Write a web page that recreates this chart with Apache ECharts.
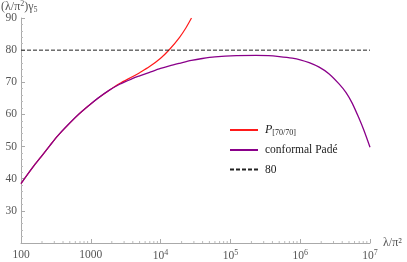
<!DOCTYPE html>
<html><head><meta charset="utf-8">
<script src="https://cdn.jsdelivr.net/npm/echarts@6/dist/echarts.min.js"></script>
<style>html,body{margin:0;padding:0;background:#fff}#c{width:407px;height:262px}</style>
</head><body><div id="c"></div>
<script>
// conformal Padé curve
const padeX = [100, 148, 195, 259, 338, 450, 653, 967, 1256, 1800, 2590, 4000, 5010, 6950, 10000, 13400, 18700, 27700, 39600, 60000, 122000, 233000, 350000, 501000, 770000, 1000000, 1345000, 1870000, 2600000, 3600000, 4540000, 5530000, 6960000, 8200000, 10000000];
const padeY = [38.5, 43.6, 46.9, 50.3, 53.4, 56.3, 59.8, 63.0, 65.0, 67.4, 69.4, 71.2, 72.0, 73.1, 74.3, 75.1, 75.9, 76.8, 77.4, 77.9, 78.3, 78.4, 78.3, 78.0, 77.5, 77.0, 76.1, 74.7, 72.6, 69.5, 66.8, 63.6, 58.8, 55.0, 49.8];
// P_[70/70] curve
const p70X = [100, 148, 195, 259, 338, 450, 653, 967, 1256, 1800, 2590, 4000, 5010, 6950, 10000, 13400, 18700, 23000, 27700];
const p70Y = [38.5, 43.6, 46.9, 50.3, 53.4, 56.3, 59.8, 63.0, 65.0, 67.4, 69.6, 71.8, 73.0, 74.9, 77.5, 80.2, 84.0, 86.9, 90.0];
// reference level
const refX = [100, 10000000];
const refY = [80, 80];
// x minor ticks
const xMinor = [200,300,400,500,600,700,800,900,2000,3000,4000,5000,6000,7000,8000,9000,20000,30000,40000,50000,60000,70000,80000,90000,200000,300000,400000,500000,600000,700000,800000,900000,2000000,3000000,4000000,5000000,6000000,7000000,8000000,9000000];
const names = ['P70', 'conformal Padé', '80'];

const serif = 'Liberation Serif';
const pair = (xs, ys) => xs.map((x, i) => [x, ys[i]]);

const chart = echarts.init(document.getElementById('c'), null, {renderer: 'canvas'});
chart.setOption({
  animation: false,
  grid: {left: 21, right: 37, top: 18, bottom: 19, containLabel: false},
  xAxis: {
    type: 'log', logBase: 10, min: 100, max: 10000000,
    name: 'λ/π²', nameLocation: 'end', nameGap: 13,
    nameTextStyle: {fontFamily: serif, fontSize: 12, color: '#555', verticalAlign: 'middle', padding: [0,0,4,0]},
    axisLine: {lineStyle: {color: '#aaa', width: 1}},
    axisTick: {show: true, inside: true, length: 4, lineStyle: {color: '#aaa'}},
    splitLine: {show: false},
    axisLabel: {
      margin: 6, color: '#555', fontFamily: serif, fontSize: 11.5,
      formatter: v => {
        const e = Math.round(Math.log10(v));
        if (e <= 3) return String(Math.round(v));
        return '{b|10}{p|' + e + '}';
      },
      rich: {
        b: {fontFamily: serif, fontSize: 11.5, color: '#555'},
        p: {fontFamily: serif, fontSize: 8, color: '#555', verticalAlign: 'top', padding: [0,0,6,0]}
      }
    }
  },
  yAxis: {
    type: 'value', min: 20, max: 90, interval: 10,
    axisLine: {show: true, lineStyle: {color: '#aaa', width: 1}},
    axisTick: {show: true, inside: true, length: 4, lineStyle: {color: '#aaa'}},
    minorTick: {show: true, splitNumber: 5, length: 2, lineStyle: {color: '#bbb'}},
    splitLine: {show: false},
    axisLabel: {
      margin: 4, color: '#555', fontFamily: serif, fontSize: 11.5,
      formatter: v => v === 20 ? '' : String(v)
    }
  },
  legend: {
    orient: 'vertical', left: 229, top: 124, padding: 0, itemWidth: 28, itemHeight: 14, itemGap: 7.5,
    data: names,
    itemStyle: {opacity: 0},
    textStyle: {
      fontFamily: serif, fontSize: 11.5, color: '#222', padding: [0,0,0,2],
      rich: {
        i: {fontFamily: serif, fontStyle: 'italic', fontSize: 12, color: '#222'},
        s: {fontFamily: serif, fontSize: 8, color: '#222', verticalAlign: 'bottom', padding: [5,0,0,0]}
      }
    },
    formatter: n => n === 'P70' ? '{i|P}{s|[70/70]}' : n
  },
  graphic: [{
    type: 'text', left: 1, top: 0,
    style: {
      text: '{a|(λ/π}{u|2}{a|)γ}{d|5}',
      rich: {
        a: {fontFamily: serif, fontSize: 12, fill: '#555'},
        u: {fontFamily: serif, fontSize: 8, fill: '#555', verticalAlign: 'top', padding: [0,0,6,0]},
        d: {fontFamily: serif, fontSize: 8, fill: '#555', verticalAlign: 'bottom', padding: [5,0,0,0]}
      }
    }
  }],
  series: [
    {
      name: 'P70', type: 'line', data: pair(p70X, p70Y), smooth: 0.3, symbol: 'none',
      lineStyle: {color: '#ff1a1a', width: 1.2}, itemStyle: {color: '#ff1a1a'}, z: 3
    },
    {
      name: 'conformal Padé', type: 'line', data: pair(padeX, padeY), smooth: 0.3, symbol: 'none',
      lineStyle: {color: '#8a008a', width: 1.3}, itemStyle: {color: '#8a008a'}, z: 4
    },
    {
      name: '80', type: 'line', data: pair(refX, refY), symbol: 'none',
      lineStyle: {color: '#222', width: 1, type: [4, 2]}, itemStyle: {color: '#222'}, z: 5
    },
    {
      type: 'custom', silent: true, clip: false, z: 2,
      data: xMinor.map(x => [x, 20]),
      renderItem: (params, api) => {
        const p = api.coord([api.value(0), api.value(1)]);
        return {type: 'line', shape: {x1: p[0], y1: p[1], x2: p[0], y2: p[1] - 2}, style: {stroke: '#bbb', lineWidth: 1}};
      }
    }
  ]
});
</script></body></html>
